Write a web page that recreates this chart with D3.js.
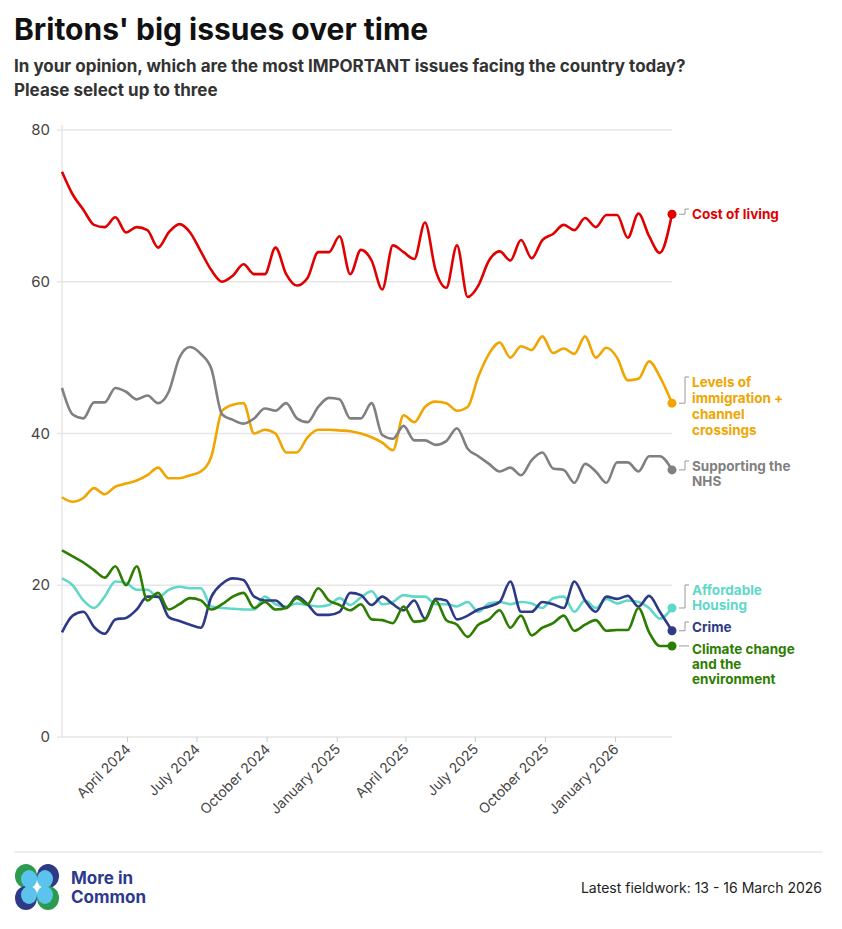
<!DOCTYPE html>
<html><head><meta charset="utf-8">
<script src="https://cdn.jsdelivr.net/npm/d3@7"></script>
<style>body{margin:0;background:#fff;font-family:Inter,"Noto Sans",sans-serif}</style>
</head><body><svg id="c" width="842" height="929"></svg>
<script>
const dates=["2024-01-06","2024-01-20","2024-02-03","2024-02-17","2024-03-02","2024-03-16","2024-03-30","2024-04-13","2024-04-27","2024-05-11","2024-05-25","2024-06-08","2024-06-22","2024-07-06","2024-07-20","2024-08-03","2024-08-17","2024-08-31","2024-09-14","2024-09-28","2024-10-12","2024-10-26","2024-11-09","2024-11-23","2024-12-07","2024-12-21","2025-01-04","2025-01-18","2025-02-01","2025-02-15","2025-03-01","2025-03-15","2025-03-29","2025-04-12","2025-04-26","2025-05-10","2025-05-24","2025-06-07","2025-06-21","2025-07-05","2025-07-19","2025-08-02","2025-08-16","2025-08-30","2025-09-13","2025-09-27","2025-10-11","2025-10-25","2025-11-08","2025-11-22","2025-12-06","2025-12-20","2026-01-03","2026-01-17","2026-01-31","2026-02-14","2026-02-28","2026-03-16"];
const costOfLiving=[74.5,71.5,69.5,67.5,67.2,68.5,66.5,67.2,66.8,64.5,66.5,67.6,66.5,64,61.5,60,60.8,62.3,61,61,64.5,61,59.5,60.5,63.9,63.9,66,61,64.2,62.8,59,64.8,63.9,63,67.8,61.5,59.2,64.8,58,59.5,62.8,64,62.8,65.5,63.1,65.5,66.3,67.5,66.8,68.4,67.2,68.8,68.8,65.8,69,66,63.8,68.9];
const immigration=[31.6,31,31.5,32.8,32,33,33.4,33.8,34.5,35.5,34.1,34.1,34.5,35,37,43,43.8,44,40,40.5,40,37.5,37.5,39.5,40.5,40.5,40.4,40.3,40,39.5,38.8,37.8,42.4,41.5,43.5,44.2,44,43,43.5,47.5,50.5,52,50,51.5,51,52.8,50.6,51.2,50.5,52.8,50,51.3,50,47,47.2,49.5,47.5,44];
const nhs=[46,42.5,42,44.1,44.1,46,45.5,44.5,45,44,45.5,50,51.4,50.5,48.5,42.5,41.8,41.3,42,43.3,43,44,42,41.5,43.5,44.7,44.5,42,42,44,39.8,39.3,41,39.1,39.1,38.5,39,40.7,38,37,36,35,35.5,34.5,36.5,37.5,35.4,35.2,33.5,36,35,33.5,36.2,36.2,35,37,37,35.2];
const housing=[20.9,20,18,17,18.5,20.5,20.3,19.4,19.4,18.4,19.4,19.8,19.6,19.6,17.2,17,16.9,16.8,16.8,18.5,17.5,17.2,17.6,17.4,17.2,17.4,18.3,17.4,18.4,19.2,17.5,17.8,18.7,18.5,18.5,17.5,17.5,17.2,17.8,16.5,17.6,17.8,17.5,17.8,17.6,17,18.3,18.5,16.5,18,17,18.2,17.6,18,17.8,17,15.6,17];
const crime=[13.8,16,16.5,14.5,13.6,15.5,15.7,16.8,18.5,18.5,15.8,15.3,14.8,14.4,18.5,20.2,20.9,20.7,18.5,18,18,17,18.5,17.5,16.1,16.1,16.5,19,18.7,17.4,18.5,17.5,16.7,18,15.6,18.2,18,15.5,16,16.8,17.2,17.8,20.5,16.5,16.5,17.8,17.5,17,20.5,18,16.5,18.5,18.2,18.6,17.2,18.6,16.5,14];
const climate=[24.6,23.8,23,22,21,22.5,20,22.5,18,19,16.8,17.5,18.3,18,16.8,17.5,18.5,19,17,17.8,16.8,17,18.3,17.5,19.6,18,17.4,16.7,17.5,15.5,15.4,15,17.2,15.2,15.4,18,15.4,14.8,13.2,14.8,15.5,16.7,14.4,16,13.4,14.4,15,16,14,14.8,15.4,14,14.1,14.1,17,13.8,12,12];
const yTicks=[0,20,40,60,80];
const xTickLabels=["April 2024","July 2024","October 2024","January 2025","April 2025","July 2025","October 2025","January 2026"];
const xTickDates=["2024-04-01","2024-07-01","2024-10-01","2025-01-01","2025-04-01","2025-07-01","2025-10-01","2026-01-01"];

const series=[
 {name:["Cost of living"],v:costOfLiving,c:"#e00000",ly:[214]},
 {name:["Levels of","immigration +","channel","crossings"],v:immigration,c:"#f0a500",ly:[382,398,414,430]},
 {name:["Supporting the","NHS"],v:nhs,c:"#808080",ly:[466,481]},
 {name:["Affordable","Housing"],v:housing,c:"#5fd8c8",ly:[590,605]},
 {name:["Crime"],v:crime,c:"#2e3a87",ly:[627]},
 {name:["Climate change","and the","environment"],v:climate,c:"#2d7d00",ly:[649,664,679]}
];
const pd=d3.timeParse("%Y-%m-%d");
const D=dates.map(pd);
const svg=d3.select("#c");
const x=d3.scaleTime().domain([D[0],D[D.length-1]]).range([62,672]);
const y=d3.scaleLinear().domain([0,80]).range([737,130]);

svg.append("text").attr("x",14).attr("y",40).text("Britons' big issues over time").attr("font-size",30).attr("font-weight",700).attr("fill","#111");
svg.append("text").attr("x",14).attr("y",72).text("In your opinion, which are the most IMPORTANT issues facing the country today?").attr("font-size",17).attr("font-weight",700).attr("fill","#333");
svg.append("text").attr("x",14).attr("y",96).text("Please select up to three").attr("font-size",17).attr("font-weight",700).attr("fill","#333");

yTicks.forEach(t=>{
 svg.append("line").attr("x1",57).attr("x2",672).attr("y1",y(t)).attr("y2",y(t)).attr("stroke","#e6e6e6").attr("stroke-width",1.5);
 svg.append("text").attr("x",50).attr("y",y(t)+5).attr("text-anchor","end").attr("font-size",15).attr("fill","#444").text(t);
});
svg.append("line").attr("x1",62).attr("x2",62).attr("y1",125).attr("y2",737).attr("stroke","#e6e6e6").attr("stroke-width",1.5);
xTickDates.forEach((d,i)=>{
 const xx=x(pd(d));
 svg.append("line").attr("x1",xx).attr("x2",xx).attr("y1",737).attr("y2",742).attr("stroke","#ccc");
 svg.append("text").attr("transform",`translate(${xx+4},${750}) rotate(-45)`).attr("text-anchor","end").attr("font-size",14).attr("fill","#444").text(xTickLabels[i]);
});
const line=d3.line().x((d,i)=>x(D[i])).y(d=>y(d)).curve(d3.curveMonotoneX);
series.forEach(s=>{
 svg.append("path").attr("d",line(s.v)).attr("fill","none").attr("stroke",s.c).attr("stroke-width",2.6).attr("stroke-linejoin","round");
});
series.forEach(s=>{
 const lx=x(D[D.length-1]), ly=y(s.v[s.v.length-1]);
 svg.append("circle").attr("cx",lx).attr("cy",ly).attr("r",4.5).attr("fill",s.c);
 const ty=s.ly[0]-5;
 if(Math.abs(ty-ly)>3){
  svg.append("path").attr("d",`M${lx+7},${ly}H${lx+13}V${ty}H${lx+17}`).attr("fill","none").attr("stroke","#999").attr("stroke-width",1);
 } else {
  svg.append("line").attr("x1",lx+7).attr("x2",lx+17).attr("y1",ly).attr("y2",ly).attr("stroke","#999");
 }
 s.name.forEach((n,j)=>svg.append("text").attr("x",692).attr("y",s.ly[j]+4.5).attr("font-size",13.5).attr("font-weight",700).attr("fill",s.c).text(n));
});

svg.append("line").attr("x1",14).attr("x2",822).attr("y1",852).attr("y2",852).attr("stroke","#ddd");
const lg=svg.append("g").attr("transform","translate(37,887)");
[[-11,-11,"#2d9b4e"],[11,-11,"#2e3a87"],[-11,11,"#2e3a87"],[11,11,"#2d9b4e"]].forEach(([cx,cy,c])=>{
 lg.append("ellipse").attr("cx",cx).attr("cy",cy).attr("rx",11).attr("ry",12).attr("fill",c);
});
[[-8,-8],[8,-8],[-8,8],[8,8]].forEach(([cx,cy])=>lg.append("ellipse").attr("cx",cx).attr("cy",cy).attr("rx",8).attr("ry",9).attr("fill","#5bc3ec"));
svg.append("text").attr("x",71).attr("y",884).attr("font-size",17).attr("font-weight",700).attr("fill","#2b3a8c").text("More in");
svg.append("text").attr("x",71).attr("y",903).attr("font-size",17).attr("font-weight",700).attr("fill","#2b3a8c").text("Common");
svg.append("text").attr("x",822).attr("y",893).attr("text-anchor","end").attr("font-size",14).attr("fill","#222").text("Latest fieldwork: 13 - 16 March 2026");
</script></body></html>
